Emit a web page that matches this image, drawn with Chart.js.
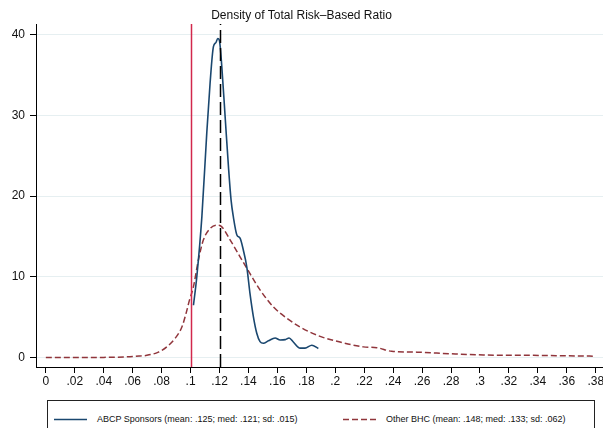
<!DOCTYPE html>
<html>
<head>
<meta charset="utf-8">
<script src="https://cdn.jsdelivr.net/npm/chart.js@4/dist/chart.umd.min.js"></script>
<style>
  html, body { margin: 0; padding: 0; background: #fff; }
  #wrap { position: relative; width: 603px; height: 428px; overflow: hidden; }
  #chart { position: absolute; left: 0; top: 0; }
  #legend {
    position: absolute; left: 47px; top: 400px; width: 546px; height: 40px;
    border: 1px solid #222; background: #fff;
    font: 9px "Liberation Sans", Arial, sans-serif; color: #111;
  }
  .item { position: absolute; top: 12px; height: 12px; line-height: 12px; white-space: nowrap; }
  .item svg { position: absolute; top: 0; }
  .item span { position: absolute; top: 0; }
</style>
</head>
<body>
<div id="wrap">
  <canvas id="chart" width="603" height="428"></canvas>
  <div id="legend"></div>
</div>
<script>
// Kernel density of the total risk-based capital ratio

const seriesNames = [
  'ABCP Sponsors (mean: .125; med: .121; sd: .015)',
  'Other BHC (mean: .148; med: .133; sd: .062)',
];

// ABCP sponsors density
const abcpX = [.102, .1043, .1078, .1112, .1135, .1158, .1175, .1188, .1199, .1216, .1239, .1262,
  .128, .1296, .132, .1342, .1365, .1389, .1411, .1434, .1458, .148, .1503, .1538, .1584,
  .1619, .1654, .1681, .171, .1757, .1791, .1838, .1883];
const abcpY = [6.5, 10.0, 17.4, 27.8, 34.0, 38.5, 39.0, 39.5, 39.3, 36.0, 29.8, 23.6,
  19.5, 17.4, 15.2, 14.8, 13.3, 11.2, 7.9, 5.1, 3.0, 2.0, 1.8, 2.1, 2.45,
  2.2, 2.25, 2.45, 1.95, 1.2, 1.2, 1.55, 1.15];

// Other BHC density
const otherX = [0, .02, .04, .05, .06, .065, .0698, .0778, .0836, .0893, .094, .0969, .0992,
  .102, .1054, .1089, .1135, .1181, .1216, .1273, .1342, .1411, .148, .1572, .1665,
  .1757, .1895, .2033, .2194, .2287, .239, .2563, .2795, .3023, .3368, .3783];
const otherY = [0.02, 0.03, 0.05, 0.08, 0.15, 0.22, 0.3, 0.7, 1.35, 2.4, 3.8, 5.5, 7.1,
  8.8, 12.1, 14.6, 16.0, 16.4, 16.2, 14.6, 12.5, 10.4, 8.4, 6.3, 4.9,
  3.8, 2.65, 1.95, 1.35, 1.25, 0.8, 0.7, 0.5, 0.35, 0.3, 0.2];

// reference lines: regulatory threshold and median
const thresholdX = [0.1];
const medianX = [0.12];

const xTicks = [0, .02, .04, .06, .08, .1, .12, .14, .16, .18, .2, .22, .24, .26, .28, .3, .32, .34, .36, .38];
const xTickLabels = ['0', '.02', '.04', '.06', '.08', '.1', '.12', '.14', '.16', '.18', '.2', '.22',
  '.24', '.26', '.28', '.3', '.32', '.34', '.36', '.38'];
const yTicks = [0, 10, 20, 30, 40];

const BLUE = '#1a476f';
const MAROON = '#90353b';
const CRIMSON = '#d2284c';
const FONT = '"Liberation Sans", Arial, sans-serif';

const toPoints = (xs, ys) => xs.map((x, i) => ({ x: x, y: ys[i] }));

const refLines = {
  id: 'refLines',
  afterDatasetsDraw(chart) {
    const { ctx, chartArea } = chart;
    const xs = chart.scales.x;
    const draw = (vals, color, dash) => {
      vals.forEach(v => {
        const px = Math.round(xs.getPixelForValue(v)) + 0.5;
        ctx.save();
        ctx.strokeStyle = color;
        ctx.lineWidth = 1.5;
        ctx.setLineDash(dash);
        ctx.beginPath();
        ctx.moveTo(px, chartArea.bottom);
        ctx.lineTo(px, chartArea.top);
        ctx.stroke();
        ctx.restore();
      });
    };
    draw(thresholdX, CRIMSON, []);
    draw(medianX, '#000', [13, 5]);
  }
};

new Chart(document.getElementById('chart'), {
  type: 'scatter',
  data: {
    datasets: [
      {
        label: seriesNames[0],
        data: toPoints(abcpX, abcpY),
        showLine: true,
        borderColor: BLUE,
        borderWidth: 1.6,
        pointRadius: 0,
        cubicInterpolationMode: 'monotone',
      },
      {
        label: seriesNames[1],
        data: toPoints(otherX, otherY),
        showLine: true,
        borderColor: MAROON,
        borderWidth: 1.5,
        borderDash: [6, 3],
        pointRadius: 0,
        cubicInterpolationMode: 'monotone',
      },
    ],
  },
  options: {
    responsive: false,
    devicePixelRatio: 1,
    animation: false,
    layout: { padding: 0 },
    plugins: {
      legend: { display: false },
      tooltip: { enabled: false },
      title: {
        display: true,
        text: 'Density of Total Risk–Based Ratio',
        color: '#111',
        font: { family: FONT, size: 12, weight: 'normal' },
        padding: { top: 8, bottom: 1.6 },
      },
    },
    scales: {
      x: {
        type: 'linear',
        min: -0.0068,
        max: 0.385,
        afterBuildTicks: s => { s.ticks = xTicks.map(v => ({ value: v })); },
        afterFit: s => { s.height = 61; s.paddingLeft = 0; s.paddingRight = 0; },
        ticks: {
          autoSkip: false,
          maxRotation: 0,
          padding: 1,
          color: '#111',
          font: { family: FONT, size: 12 },
          callback: v => xTickLabels[xTicks.indexOf(v)],
        },
        grid: { drawOnChartArea: false, tickLength: 6, tickColor: '#000', tickWidth: 1 },
        border: { color: '#000', width: 1 },
      },
      y: {
        type: 'linear',
        min: -1.14,
        max: 41.3,
        afterBuildTicks: s => { s.ticks = yTicks.map(v => ({ value: v })); },
        afterFit: s => { s.width = 36; },
        ticks: {
          padding: 5,
          color: '#111',
          font: { family: FONT, size: 12 },
          callback: v => String(v),
        },
        grid: { color: '#e6eff1', lineWidth: 1, tickLength: 6, tickColor: '#000', tickWidth: 1 },
        border: { color: '#000', width: 1 },
      },
    },
  },
  plugins: [refLines],
});

// legend box underneath the plot
const legend = document.getElementById('legend');
const legendItems = [
  { left: 6, text: seriesNames[0], color: BLUE, dash: '' },
  { left: 295, text: seriesNames[1], color: MAROON, dash: '6,3' },
];
legendItems.forEach(it => {
  const d = document.createElement('div');
  d.className = 'item';
  d.style.left = it.left + 'px';
  d.innerHTML =
    `<svg width="34" height="12" style="left:0"><line x1="0" y1="6.5" x2="33" y2="6.5" stroke="${it.color}" stroke-width="1.5" stroke-dasharray="${it.dash}"/></svg>` +
    `<span style="left:43px">${it.text}</span>`;
  legend.appendChild(d);
});
</script>
</body>
</html>
